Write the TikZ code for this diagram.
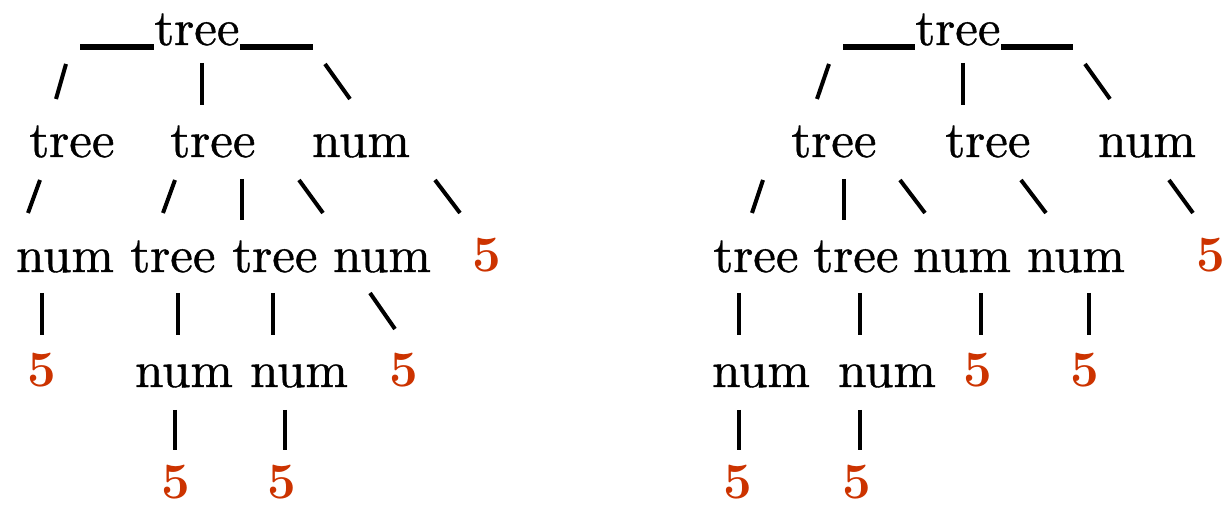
\documentclass[tikz,border=0pt]{standalone}
\usepackage{fontspec}
\usepackage{xcolor}
\usepackage{tikz}
\newfontfamily\treefam{lmroman10-regular.otf}[FakeBold=0.8]
\definecolor{leafred}{RGB}{204,51,0}
\def\treefont{\fontsize{25.5}{30}\selectfont}
% one short ascii-like stroke between two named coordinates
\newcommand\stroke[3]{%
  \coordinate (#1-t) at (#2);
  \coordinate (#1-b) at (#3);
  \draw[branch] (#1-t) -- (#1-b);}
\tikzset{
  word/.style={anchor=base, inner sep=0pt, font=\treefont\treefam},
  leaf/.style={anchor=base, inner sep=0pt, text=leafred, font=\treefont\bfseries},
  branch/.style={line width=2pt},
  ubar/.style={line width=3pt},
}

\begin{document}
\begin{tikzpicture}[x=0.5pt, y=-0.5pt]
		\useasboundingbox (0,0) rectangle (1228,506);
		% left tree
		\node[word] (aroot) at (197,45) {tree};
		\coordinate (aul) at (80,47);
		\coordinate (aur) at (313,47);
		\draw[ubar] (aul) -- (aul -| aroot.west);
		\draw[ubar] (aroot.east |- aur) -- (aur);
		\node[word] (atreeA) at (72,157) {tree};
		\node[word] (atreeB) at (213,157) {tree};
		\node[word] (anumA) at (361,157) {num};
		\node[word] (anumB) at (65,272) {num};
		\node[word] (atreeC) at (173,272) {tree};
		\node[word] (atreeD) at (275,272) {tree};
		\node[word] (anumC) at (382,272) {num};
		\node[leaf] (afiveA) at (487,272) {5};
		\node[leaf] (afiveB) at (42,387) {5};
		\node[word] (anumD) at (184,387) {num};
		\node[word] (anumE) at (299,387) {num};
		\node[leaf] (afiveC) at (404,387) {5};
		\node[leaf] (afiveD) at (176,499) {5};
		\node[leaf] (afiveE) at (282,499) {5};
		\stroke{a1}{66,64}{56,99}
		\stroke{a2}{202,63}{202,105}
		\stroke{a3}{325,64}{350,99}
		\stroke{a4}{40,180}{28,213}
		\stroke{a5}{175,180}{163,213}
		\stroke{a6}{242,179}{242,220}
		\stroke{a7}{299,180}{323,213}
		\stroke{a8}{435,180}{460,213}
		\stroke{a9}{42,293}{42,335}
		\stroke{a10}{178,293}{178,335}
		\stroke{a11}{273,293}{273,335}
		\stroke{a12}{370,293}{395,329}
		\stroke{a13}{175,410}{175,450}
		\stroke{a14}{285,410}{285,450}
		% right tree
		\node[word] (broot) at (958,45) {tree};
		\coordinate (bul) at (843,47);
		\coordinate (bur) at (1073,47);
		\draw[ubar] (bul) -- (bul -| broot.west);
		\draw[ubar] (broot.east |- bur) -- (bur);
		\node[word] (btreeA) at (834,157) {tree};
		\node[word] (btreeB) at (988,157) {tree};
		\node[word] (bnumA) at (1147,157) {num};
		\node[word] (btreeC) at (756,272) {tree};
		\node[word] (btreeD) at (856,272) {tree};
		\node[word] (bnumB) at (962,272) {num};
		\node[word] (bnumC) at (1076,272) {num};
		\node[leaf] (bfiveA) at (1211,272) {5};
		\node[word] (bnumD) at (761,387) {num};
		\node[word] (bnumE) at (887,387) {num};
		\node[leaf] (bfiveB) at (978,387) {5};
		\node[leaf] (bfiveC) at (1085,387) {5};
		\node[leaf] (bfiveD) at (738,499) {5};
		\node[leaf] (bfiveE) at (857,499) {5};
		\stroke{b1}{829,64}{817,99}
		\stroke{b2}{963,63}{963,105}
		\stroke{b3}{1085,64}{1110,99}
		\stroke{b4}{763,180}{752,213}
		\stroke{b5}{844,179}{844,220}
		\stroke{b6}{900,180}{925,213}
		\stroke{b7}{1021,180}{1046,213}
		\stroke{b8}{1169,180}{1193,213}
		\stroke{b9}{739,293}{739,335}
		\stroke{b10}{860,293}{860,335}
		\stroke{b11}{981,293}{981,335}
		\stroke{b12}{1089,293}{1089,335}
		\stroke{b13}{739,410}{739,450}
		\stroke{b14}{860,410}{860,450}
	\end{tikzpicture}
\end{document}
